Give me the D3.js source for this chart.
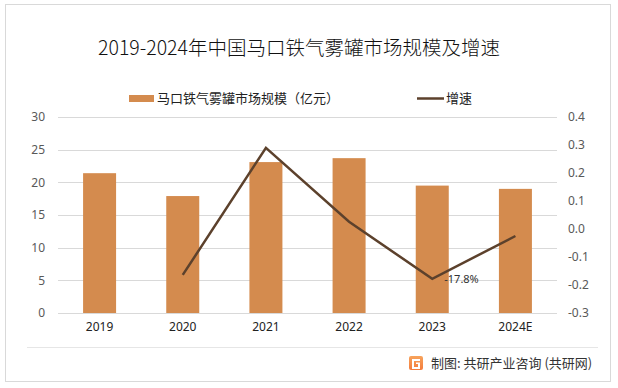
<!DOCTYPE html>
<html><head><meta charset="utf-8">
<script src="https://cdn.jsdelivr.net/npm/d3@7"></script>
<style>
html,body{margin:0;padding:0;background:#fff;}
svg{display:block;font-family:"Noto Sans CJK SC","Noto Sans",sans-serif;}
</style></head>
<body>
<svg id="chart" width="618" height="388"></svg>
<script>
const categories = ["2019","2020","2021","2022","2023","2024E"];
const marketSize = [21.4, 17.9, 23.1, 23.7, 19.5, 19.0];
const growth = [null, -0.164, 0.29, 0.026, -0.178, -0.025];
const leftTicks = [0,5,10,15,20,25,30];
const rightTicks = [-0.3,-0.2,-0.1,0,0.1,0.2,0.3,0.4];
const titleText = "2019-2024年中国马口铁气雾罐市场规模及增速";
const legendBar = "马口铁气雾罐市场规模（亿元）";
const legendLine = "增速";
const footerText = "制图: 共研产业咨询 (共研网)";
const labelText = {4: "-17.8%"};

const svg = d3.select("#chart");
const barColor = "#D48B4E", lineColor = "#5C412C";

svg.append("rect").attr("x",5.5).attr("y",4.5).attr("width",605).attr("height",377)
  .attr("fill","#fff").attr("stroke","#d9d9d9").attr("stroke-width",1);

const x = d3.scaleBand().domain(categories).range([58,557]).paddingInner(0.6).paddingOuter(0.3);
const yL = d3.scaleLinear().domain([0,30]).range([313,117]);
const yR = d3.scaleLinear().domain([-0.3,0.4]).range([313,117]);

// gridlines
svg.append("g").selectAll("line").data(leftTicks).join("line")
  .attr("x1",58).attr("x2",557).attr("y1",d=>Math.round(yL(d))+0.5).attr("y2",d=>Math.round(yL(d))+0.5)
  .attr("stroke","#d9d9d9").attr("stroke-width",1);

// left axis
const gL = svg.append("g").attr("transform","translate(50,0)")
  .call(d3.axisLeft(yL).tickValues(leftTicks).tickSize(0).tickPadding(5));
gL.select(".domain").remove();
gL.selectAll("text").attr("fill","#595959").style("font-size","12px").style("font-family","'Noto Sans','DejaVu Sans',sans-serif");

// right axis
const fmt = d3.format(".1f");
const gR = svg.append("g").attr("transform","translate(563,0)")
  .call(d3.axisRight(yR).tickValues(rightTicks).tickSize(0).tickPadding(5).tickFormat(d=>fmt(d).replace("\u2212","-")));
gR.select(".domain").remove();
gR.selectAll("text").attr("fill","#595959").style("font-size","12px").style("font-family","'Noto Sans','DejaVu Sans',sans-serif");

// x axis
const gX = svg.append("g").attr("transform","translate(0,322)")
  .call(d3.axisBottom(x).tickSize(0).tickPadding(0));
gX.select(".domain").remove();
gX.selectAll("text").attr("fill","#222").style("font-size","12px").style("font-family","'Noto Sans','DejaVu Sans',sans-serif");

// bars
const bw = 33;
svg.append("g").selectAll("rect").data(marketSize).join("rect")
  .attr("x",(d,i)=>x(categories[i])+x.bandwidth()/2-bw/2).attr("width",bw)
  .attr("y",d=>yL(d)).attr("height",d=>yL(0)-yL(d)).attr("fill",barColor);

// line
const pts = growth.map((g,i)=>({g,c:categories[i]})).filter(d=>d.g!==null);
svg.append("path").datum(pts)
  .attr("d",d3.line().x(d=>x(d.c)+x.bandwidth()/2).y(d=>yR(d.g)))
  .attr("fill","none").attr("stroke",lineColor).attr("stroke-width",2.5).attr("stroke-linejoin","miter");

// label
Object.entries(labelText).forEach(([i,t])=>{
  svg.append("text").attr("x",x(categories[i])+x.bandwidth()/2+12).attr("y",yR(growth[i])+4)
    .attr("fill","#333").style("font-size","11px").style("font-family","'Noto Sans','DejaVu Sans',sans-serif").text(t);
});

// title
svg.append("text").attr("x",299).attr("y",55).attr("text-anchor","middle")
  .attr("fill","#111").style("font-size","19.5px").style("font-weight","300").text(titleText);

// legend
svg.append("rect").attr("x",129).attr("y",95).attr("width",25).attr("height",7).attr("fill",barColor);
svg.append("text").attr("x",157).attr("y",103).attr("fill","#222").style("font-size","13px").text(legendBar);
svg.append("line").attr("x1",417).attr("x2",444).attr("y1",98.5).attr("y2",98.5).attr("stroke",lineColor).attr("stroke-width",2.5);
svg.append("text").attr("x",446).attr("y",103).attr("fill","#222").style("font-size","13px").text(legendLine);

// footer
svg.append("line").attr("x1",27).attr("x2",598).attr("y1",347.5).attr("y2",347.5).attr("stroke","#e6e6e6");
const logo = svg.append("g").attr("transform","translate(409,356)");
const lg = svg.append("defs").append("linearGradient").attr("id","lg").attr("x1",0).attr("y1",0).attr("x2",0).attr("y2",1);
lg.append("stop").attr("offset",0).attr("stop-color","#f7a35c");
lg.append("stop").attr("offset",1).attr("stop-color","#f47c3c");
logo.append("rect").attr("width",14).attr("height",14).attr("rx",2).attr("fill","url(#lg)");
logo.append("path").attr("d","M3,3 H11 V5 H5 V11 H9 V8 H7 V6.5 H11 V13 H3 Z").attr("fill","#fff");
svg.append("text").attr("x",431).attr("y",368).attr("fill","#333").style("font-size","13px").text(footerText);
</script>
</body></html>
